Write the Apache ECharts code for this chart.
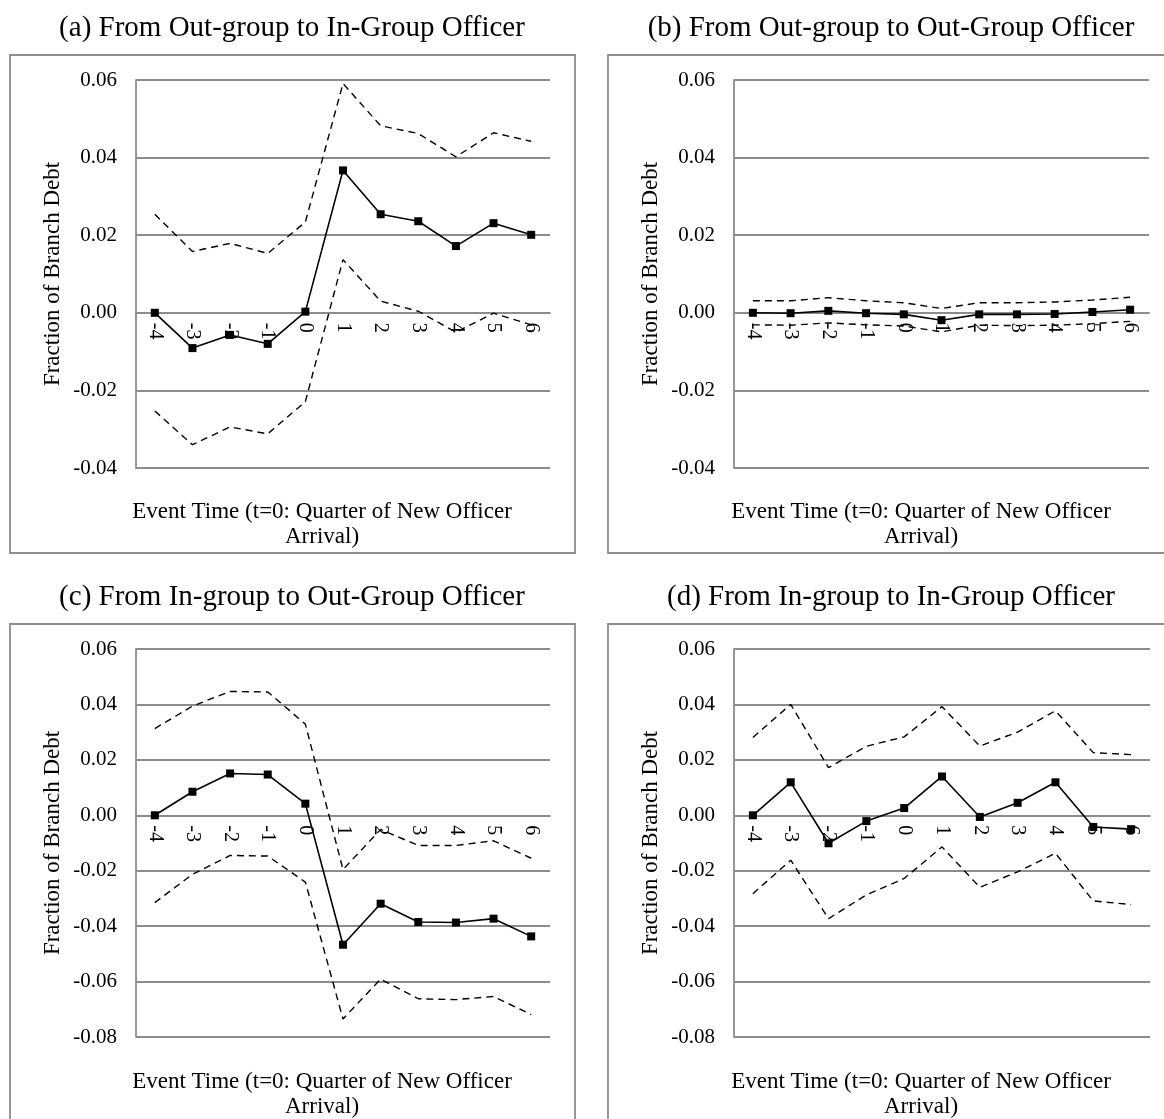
<!DOCTYPE html>
<html>
<head>
<meta charset="utf-8">
<script src="https://cdn.jsdelivr.net/npm/echarts@6/dist/echarts.min.js"></script>
<style>
html,body{margin:0;padding:0;background:#fff;}
#chart{width:1164px;height:1119px;}
</style>
</head>
<body>
<div id="chart"></div>
<script>
// ---- data ----
const categories = ['-4','-3','-2','-1','0','1','2','3','4','5','6'];

const panelTitles = [
  '(a) From Out-group to In-Group Officer',
  '(b) From Out-group to Out-Group Officer',
  '(c) From In-group to Out-Group Officer',
  '(d) From In-group to In-Group Officer'
];

const yTitle = 'Fraction of Branch Debt';
const xTitle = 'Event Time (t=0: Quarter of New Officer\nArrival)';

// (a)
const aEstimate = [0.0000, -0.0091, -0.0057, -0.0080, 0.0003, 0.0367, 0.0254, 0.0236, 0.0172, 0.0231, 0.0201];
const aUpper    = [0.0254, 0.0158, 0.0179, 0.0153, 0.0234, 0.0591, 0.0482, 0.0462, 0.0402, 0.0464, 0.0442];
const aLower    = [-0.0253, -0.0340, -0.0294, -0.0312, -0.0229, 0.0137, 0.0030, 0.0004, -0.0050, -0.0001, -0.0031];
// (b)
const bEstimate = [0.0000, -0.0001, 0.0005, -0.0001, -0.0004, -0.0019, -0.0004, -0.0004, -0.0003, 0.0002, 0.0008];
const bUpper    = [0.0031, 0.0031, 0.0039, 0.0031, 0.0026, 0.0011, 0.0026, 0.0026, 0.0028, 0.0033, 0.0040];
const bLower    = [-0.0031, -0.0032, -0.0026, -0.0031, -0.0034, -0.0049, -0.0032, -0.0033, -0.0032, -0.0028, -0.0022];
// (c)
const cEstimate = [0.0000, 0.0085, 0.0151, 0.0147, 0.0042, -0.0467, -0.0319, -0.0385, -0.0387, -0.0373, -0.0437];
const cUpper    = [0.0313, 0.0394, 0.0447, 0.0445, 0.0329, -0.0196, -0.0051, -0.0109, -0.0109, -0.0092, -0.0155];
const cLower    = [-0.0315, -0.0213, -0.0145, -0.0147, -0.0241, -0.0735, -0.0591, -0.0662, -0.0665, -0.0654, -0.0719];
// (d)
const dEstimate = [0.0000, 0.0119, -0.0101, -0.0021, 0.0026, 0.0140, -0.0006, 0.0045, 0.0119, -0.0042, -0.0050];
const dUpper    = [0.0281, 0.0400, 0.0172, 0.0249, 0.0283, 0.0392, 0.0250, 0.0300, 0.0377, 0.0226, 0.0219];
const dLower    = [-0.0283, -0.0162, -0.0373, -0.0287, -0.0228, -0.0114, -0.0260, -0.0204, -0.0137, -0.0309, -0.0322];

const yMins = [-0.04, -0.04, -0.08, -0.08];
const yMaxs = [0.06, 0.06, 0.06, 0.06];
const yStep = 0.02;

// ---- layout / style ----
const FONT = '"Liberation Serif", "DejaVu Serif", serif';
const GRAY = '#8c8c8c';
const grids = [
  {left: 136, top: 80,  width: 414, height: 388},
  {left: 734, top: 80,  width: 415, height: 388},
  {left: 136, top: 649, width: 414, height: 388},
  {left: 734, top: 649, width: 416, height: 388}
];
const titlePos = [
  {x: 287, y: 9}, {x: 886, y: 9}, {x: 287, y: 578}, {x: 886, y: 578}
];
const xNamePos = [
  {x: 317, y: 494}, {x: 916, y: 494}, {x: 317, y: 1064}, {x: 916, y: 1064}
];
const boxes = [
  {x: 10, y: 55, w: 565, h: 498},
  {x: 608, y: 55, w: 600, h: 498},
  {x: 10, y: 624, w: 565, h: 520},
  {x: 608, y: 624, w: 600, h: 520}
];

const estimates = [aEstimate, bEstimate, cEstimate, dEstimate];
const uppers = [aUpper, bUpper, cUpper, dUpper];
const lowers = [aLower, bLower, cLower, dLower];

const option = {
  backgroundColor: '#ffffff',
  animation: false,
  title: [],
  grid: [],
  xAxis: [],
  yAxis: [],
  series: [],
  graphic: []
};

for (let i = 0; i < 4; i++) {
  // place the category axis on the zero line of the value scale
  const zeroOffset = -grids[i].height * (0 - yMins[i]) / (yMaxs[i] - yMins[i]);
  option.grid.push(grids[i]);
  option.title.push({
    text: panelTitles[i],
    left: titlePos[i].x,
    top: titlePos[i].y,
    textAlign: 'center',
    textStyle: {fontFamily: FONT, fontSize: 29, fontWeight: 'normal', color: '#000'}
  });
  option.title.push({
    text: xTitle,
    left: xNamePos[i].x,
    top: xNamePos[i].y,
    textAlign: 'center',
    textStyle: {fontFamily: FONT, fontSize: 23, fontWeight: 'normal', color: '#000', lineHeight: 25, align: 'center'}
  });
  option.xAxis.push({
    type: 'category',
    gridIndex: i,
    data: categories,
    boundaryGap: true,
    position: 'bottom',
    offset: zeroOffset,
    axisLine: {show: true, onZero: false, lineStyle: {color: GRAY, width: 1.8}},
    axisTick: {show: false},
    axisLabel: {rotate: -90, margin: 10, fontFamily: FONT, fontSize: 20, color: '#000', interval: 0},
    splitLine: {show: false}
  });
  option.yAxis.push({
    type: 'value',
    gridIndex: i,
    min: yMins[i],
    max: yMaxs[i],
    interval: yStep,
    name: yTitle,
    nameLocation: 'middle',
    nameGap: 72,
    nameRotate: 90,
    nameTextStyle: {fontFamily: FONT, fontSize: 23, color: '#000'},
    axisLine: {show: true, lineStyle: {color: GRAY, width: 1.8}},
    axisTick: {show: false},
    axisLabel: {
      margin: 19, fontFamily: FONT, fontSize: 21, color: '#000',
      formatter: v => v.toFixed(2)
    },
    splitLine: {show: true, lineStyle: {color: GRAY, width: 1.8}}
  });
  option.series.push({
    type: 'line',
    xAxisIndex: i, yAxisIndex: i,
    data: uppers[i],
    symbol: 'none',
    lineStyle: {color: '#000', width: 1.4, type: [7, 5]},
    z: 3
  });
  option.series.push({
    type: 'line',
    xAxisIndex: i, yAxisIndex: i,
    data: lowers[i],
    symbol: 'none',
    lineStyle: {color: '#000', width: 1.4, type: [7, 5]},
    z: 3
  });
  option.series.push({
    type: 'line',
    xAxisIndex: i, yAxisIndex: i,
    data: estimates[i],
    symbol: 'rect',
    symbolSize: 8,
    itemStyle: {color: '#000'},
    lineStyle: {color: '#000', width: 1.6},
    z: 4
  });
  option.graphic.push({
    type: 'rect',
    shape: {x: boxes[i].x, y: boxes[i].y, width: boxes[i].w, height: boxes[i].h},
    style: {fill: 'none', stroke: GRAY, lineWidth: 1.8},
    silent: true,
    z: -1
  });
}

const chart = echarts.init(document.getElementById('chart'), null, {renderer: 'canvas'});
chart.setOption(option);
</script>
</body>
</html>
